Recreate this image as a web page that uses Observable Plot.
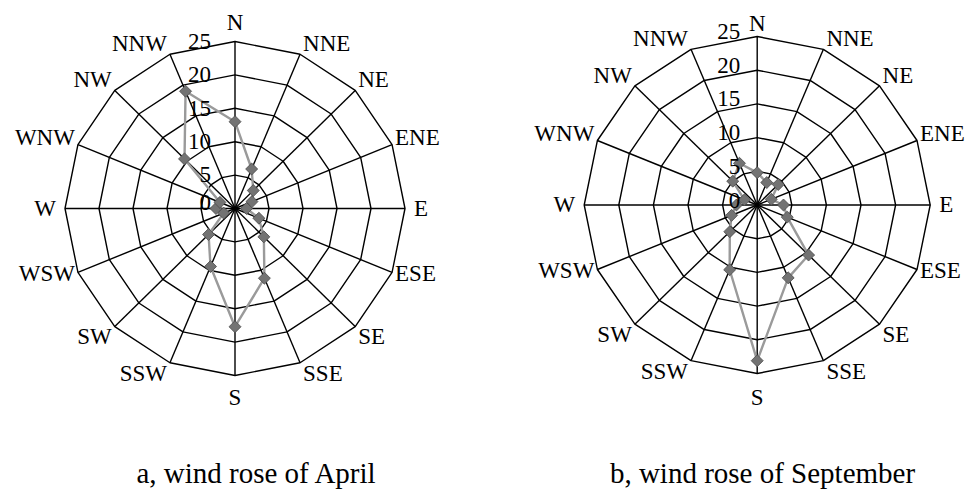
<!DOCTYPE html>
<html><head><meta charset="utf-8">
<script src="https://cdn.jsdelivr.net/npm/d3@7"></script>
<script src="https://cdn.jsdelivr.net/npm/@observablehq/plot@0.6"></script>
<style>
body{margin:0;background:#fff;}
#wrap{position:relative;width:969px;height:491px;overflow:hidden;font-family:"Liberation Serif",serif;background:#fff;}
.chart{position:absolute;top:0;}
.cap{position:absolute;font-size:29px;white-space:nowrap;transform:translateX(-50%);line-height:1;color:#000;font-family:"Liberation Serif",serif;}
</style></head><body><div id="wrap"></div>
<script>
const directions = ["N","NNE","NE","ENE","E","ESE","SE","SSE","S","SSW","SW","WSW","W","WNW","NW","NNW"];
const aprilValues = [13.0, 6.4, 3.8, 2.7, 1.7, 3.8, 6.0, 11.3, 17.7, 9.4, 5.5, 1.8, 2.8, 2.4, 10.5, 19.0];
const septemberValues = [4.8, 3.6, 4.3, 2.2, 3.8, 4.7, 10.5, 11.7, 23.1, 10.4, 5.6, 4.0, 3.0, 2.0, 5.0, 6.7];
const ringTicks = [0, 5, 10, 15, 20, 25];
const captions = ["a, wind rose of April", "b, wind rose of September"];

function rose(values, opt) {
  const {W, H, cx, cy, kx, ky} = opt;
  const n = directions.length;
  const maxV = ringTicks[ringTicks.length - 1];
  const ang = i => i * 2 * Math.PI / n;
  const rings = [];
  for (const t of ringTicks.filter(t => t > 0)) {
    for (let i = 0; i <= n; i++) {
      const a = ang(i % n);
      rings.push({t, x: t * Math.sin(a), y: t * Math.cos(a)});
    }
  }
  const spokes = directions.map((d, i) => ({x0: 0, y0: 0, x: maxV * Math.sin(ang(i)), y: maxV * Math.cos(ang(i))}));
  const series = [...values, values[0]].map((v, i) => ({x: v * Math.sin(ang(i % n)), y: v * Math.cos(ang(i % n))}));
  const pts = values.map((v, i) => ({dir: directions[i], v, x: v * Math.sin(ang(i)), y: v * Math.cos(ang(i))}));
  const labels = directions.map((d, i) => {
    const a = ang(i), s = Math.sin(a), c = Math.cos(a);
    const vx = maxV * s * kx, vy = -maxV * c * ky;
    let px, py, anchor;
    if (Math.abs(s) < 1e-6) {
      anchor = "middle"; px = vx;
      py = c > 0 ? vy - opt.nGap - 7.5 : vy + opt.sGap + 7.5;
    } else {
      anchor = s > 0 ? "start" : "end";
      const ew = Math.abs(c) < 1e-6;
      px = vx + Math.sign(s) * (ew ? 9 : 3);
      if (ew) py = vy;
      else if (c > 0.5) py = vy - 3 - 7.5;
      else if (c > 0) py = vy - 7;
      else if (c > -0.5) py = vy + 1;
      else py = vy + 3 + 7.5;
    }
    return {d, anchor, x: px / kx, y: -py / ky};
  });
  const ticks = ringTicks.map(t => ({
    t, x: opt.tickDx / kx,
    y: t - (t === 0 ? opt.zeroDy : opt.tickDy) / ky
  }));
  const font = {fontSize: 23, fill: "black", lineAnchor: "middle"};
  const labelMark = anc => Plot.text(labels, {filter: d => d.anchor === anc, x: "x", y: "y", text: "d", textAnchor: anc, ...font});
  return Plot.plot({
    width: W, height: H, margin: 0,
    x: {domain: [-cx / kx, (W - cx) / kx], range: [0, W], axis: null},
    y: {domain: [-(H - cy) / ky, cy / ky], range: [H, 0], axis: null},
    style: {background: "transparent", fontFamily: "'Liberation Serif',serif", overflow: "visible"},
    marks: [
      Plot.line(rings, {x: "x", y: "y", z: "t", stroke: "black", strokeWidth: 1.4}),
      Plot.link(spokes, {x1: "x0", y1: "y0", x2: "x", y2: "y", stroke: "black", strokeWidth: 1.4}),
      Plot.line(series, {x: "x", y: "y", stroke: "#9a9a9a", strokeWidth: 2.4}),
      Plot.dot(pts, {x: "x", y: "y", symbol: "diamond2", r: 5.4, fill: "#737373", stroke: "#4a4a4a", strokeWidth: 0.8}),
      Plot.text(ticks, {x: "x", y: "y", text: d => String(d.t), textAnchor: "end", ...font}),
      labelMark("start"), labelMark("end"), labelMark("middle")
    ]
  });
}

const wrap = document.getElementById("wrap");
const left = rose(aprilValues, {W: 484, H: 440, cx: 234.5, cy: 208, kx: 170 / 25, ky: 167 / 25, tickDx: -24, tickDy: 0, zeroDy: -6, nGap: 11, sGap: 15});
left.classList.add("chart"); left.style.left = "0px";
wrap.appendChild(left);
const right = rose(septemberValues, {W: 485, H: 440, cx: 272.7, cy: 204.5, kx: 173 / 25, ky: 168.5 / 25, tickDx: -17, tickDy: -5, zeroDy: -4.5, nGap: 5, sGap: 17});
right.classList.add("chart"); right.style.left = "484px";
wrap.appendChild(right);

[[captions[0], 256], [captions[1], 762.5]].forEach(([t, x]) => {
  const d = document.createElement("div");
  d.className = "cap"; d.textContent = t;
  d.style.left = x + "px"; d.style.top = "459px";
  wrap.appendChild(d);
});
</script></body></html>
